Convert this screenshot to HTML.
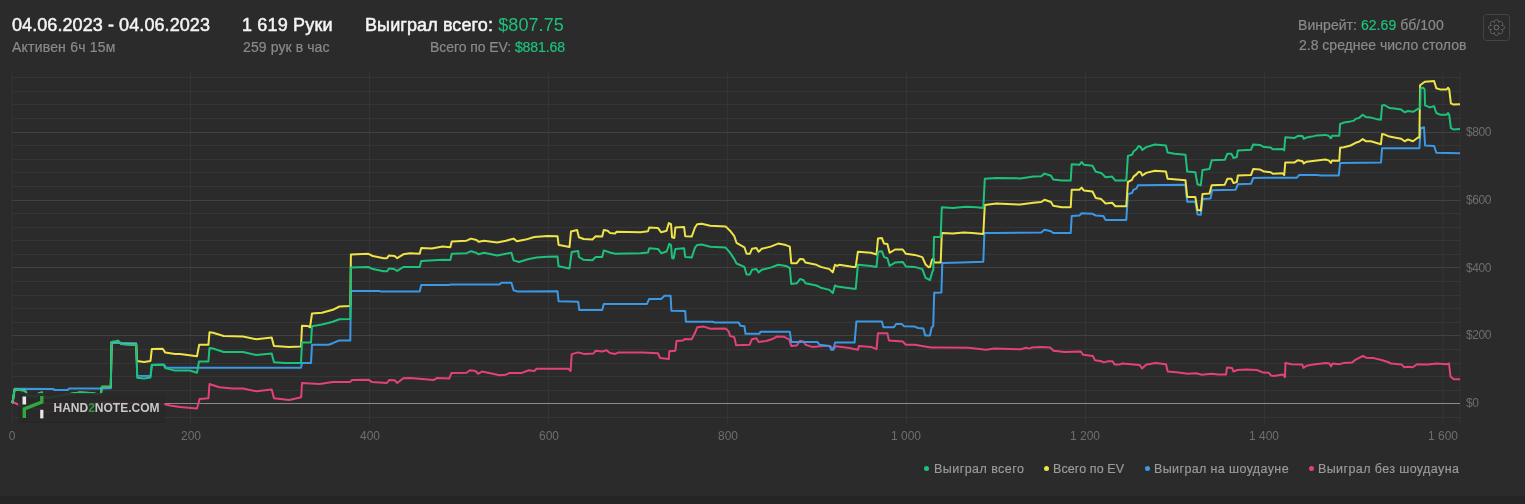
<!DOCTYPE html>
<html><head><meta charset="utf-8"><style>
html,body{margin:0;padding:0;}
body{width:1525px;height:504px;background:#2b2b2b;position:relative;overflow:hidden;font-family:"Liberation Sans",sans-serif;}
.a,.xl,.yl,.lg{will-change:transform;}
.a{position:absolute;white-space:nowrap;line-height:1;}
.t{color:#f4f4f4;-webkit-text-stroke:0.5px #f4f4f4;}
.s{color:#8a8a8a;-webkit-text-stroke:0.2px #8a8a8a;}
.g{color:#1dc27a;-webkit-text-stroke:0.2px #1dc27a;}
.gn{color:#1dc27a;-webkit-text-stroke:0;}
.xl{position:absolute;top:430px;width:80px;text-align:center;font-size:12px;color:#6e6e6e;line-height:12px;}
.yl{position:absolute;left:1466px;font-size:12px;color:#6e6e6e;line-height:16px;letter-spacing:-0.4px;}
.lg{position:absolute;top:463px;font-size:12.5px;color:#9c9c9c;-webkit-text-stroke:0.15px #9c9c9c;line-height:13px;white-space:nowrap;}
.dot{position:absolute;width:5.2px;height:5.2px;border-radius:50%;top:465.8px;}
#strip{position:absolute;left:0;top:496px;width:1525px;height:8px;background:#252525;}
</style></head><body>
<div class="a t" style="left:12.2px;top:16px;font-size:18px;letter-spacing:0.08px">04.06.2023 - 04.06.2023</div><div class="a s" style="left:12.3px;top:40px;font-size:14px;letter-spacing:0.2px">Активен 6ч 15м</div><div class="a t" style="left:242.4px;top:16px;font-size:18px;letter-spacing:0.17px">1 619 Руки</div><div class="a s" style="left:243.3px;top:40px;font-size:14px;letter-spacing:0.1px">259 рук в час</div><div class="a t" style="left:365.2px;top:16px;font-size:18px;letter-spacing:0.1px">Выиграл всего: <span class="gn">$807.75</span></div><div class="a s" style="left:429.5px;top:40px;font-size:14px;letter-spacing:-0.07px">Всего по EV: <span class="g">$881.68</span></div><div class="a s" style="left:1297.8px;top:18px;font-size:14px;letter-spacing:0.05px">Винрейт: <span class="g">62.69</span> бб/100</div><div class="a s" style="left:1298.8px;top:38px;font-size:14px;letter-spacing:0.0px">2.8 среднее число столов</div>
<svg style="position:absolute;left:0;top:0" width="1525" height="504" viewBox="0 0 1525 504">
<line x1="12.0" y1="71" x2="12.0" y2="424" stroke="#353535" stroke-width="1"/><line x1="190.5" y1="71" x2="190.5" y2="424" stroke="#353535" stroke-width="1"/><line x1="369.5" y1="71" x2="369.5" y2="424" stroke="#353535" stroke-width="1"/><line x1="548.5" y1="71" x2="548.5" y2="424" stroke="#353535" stroke-width="1"/><line x1="727.5" y1="71" x2="727.5" y2="424" stroke="#353535" stroke-width="1"/><line x1="906.5" y1="71" x2="906.5" y2="424" stroke="#353535" stroke-width="1"/><line x1="1085.5" y1="71" x2="1085.5" y2="424" stroke="#353535" stroke-width="1"/><line x1="1264.5" y1="71" x2="1264.5" y2="424" stroke="#353535" stroke-width="1"/><line x1="1443.0" y1="71" x2="1443.0" y2="424" stroke="#353535" stroke-width="1"/><line x1="1460.0" y1="71" x2="1460.0" y2="424" stroke="#353535" stroke-width="1"/><line x1="12.5" y1="417.5" x2="1460" y2="417.5" stroke="#353535" stroke-width="1"/><line x1="12.5" y1="390.5" x2="1460" y2="390.5" stroke="#353535" stroke-width="1"/><line x1="12.5" y1="376.5" x2="1460" y2="376.5" stroke="#353535" stroke-width="1"/><line x1="12.5" y1="363.5" x2="1460" y2="363.5" stroke="#353535" stroke-width="1"/><line x1="12.5" y1="349.5" x2="1460" y2="349.5" stroke="#353535" stroke-width="1"/><line x1="12.5" y1="335.5" x2="1460" y2="335.5" stroke="#424242" stroke-width="1"/><line x1="12.5" y1="322.5" x2="1460" y2="322.5" stroke="#353535" stroke-width="1"/><line x1="12.5" y1="308.5" x2="1460" y2="308.5" stroke="#353535" stroke-width="1"/><line x1="12.5" y1="295.5" x2="1460" y2="295.5" stroke="#353535" stroke-width="1"/><line x1="12.5" y1="281.5" x2="1460" y2="281.5" stroke="#353535" stroke-width="1"/><line x1="12.5" y1="267.5" x2="1460" y2="267.5" stroke="#424242" stroke-width="1"/><line x1="12.5" y1="254.5" x2="1460" y2="254.5" stroke="#353535" stroke-width="1"/><line x1="12.5" y1="240.5" x2="1460" y2="240.5" stroke="#353535" stroke-width="1"/><line x1="12.5" y1="227.5" x2="1460" y2="227.5" stroke="#353535" stroke-width="1"/><line x1="12.5" y1="213.5" x2="1460" y2="213.5" stroke="#353535" stroke-width="1"/><line x1="12.5" y1="200.5" x2="1460" y2="200.5" stroke="#424242" stroke-width="1"/><line x1="12.5" y1="186.5" x2="1460" y2="186.5" stroke="#353535" stroke-width="1"/><line x1="12.5" y1="172.5" x2="1460" y2="172.5" stroke="#353535" stroke-width="1"/><line x1="12.5" y1="159.5" x2="1460" y2="159.5" stroke="#353535" stroke-width="1"/><line x1="12.5" y1="145.5" x2="1460" y2="145.5" stroke="#353535" stroke-width="1"/><line x1="12.5" y1="132.5" x2="1460" y2="132.5" stroke="#424242" stroke-width="1"/><line x1="12.5" y1="118.5" x2="1460" y2="118.5" stroke="#353535" stroke-width="1"/><line x1="12.5" y1="104.5" x2="1460" y2="104.5" stroke="#353535" stroke-width="1"/><line x1="12.5" y1="91.5" x2="1460" y2="91.5" stroke="#353535" stroke-width="1"/><line x1="12.5" y1="77.5" x2="1460" y2="77.5" stroke="#353535" stroke-width="1"/><line x1="12" y1="403.5" x2="1460" y2="403.5" stroke="#8a8a8a" stroke-width="1"/>

<polyline points="12,403 14,402.5 17,404 20,405.5 27,407.5 35,408.5 40,409 43,412.5 50,412 60,410.3 74,408.7 88,407.9 95,405 101,402 118,402 130,403 145,403.5 163.7,404 170,405.5 180,407 197,408.5 199.6,399 208.4,398.3 209.5,384 219.3,387.3 232.4,388.4 243,388.4 256.4,391.3 271.7,389.5 274,398.3 289.2,400 301.2,397.2 302,383 319.7,384 332.8,381.9 340,381.9 350,381.9 352,380.1 368.4,379.7 371.7,381.9 386.9,383 389.1,380.1 394.6,380.3 397.2,383 403.3,378.2 410,378 433.9,379.9 437.2,377.9 449.2,378.6 451.4,373.1 466.6,372.7 469.9,370.3 475.4,371 478,373.8 481.9,371.6 492.8,373.8 499.4,375.3 505.9,374.7 509.2,373.1 521.2,373.1 528.9,370.3 534.3,371 536.5,368.8 547.4,368.8 568.4,368.8 570.6,371 571.7,354.1 578.2,352.4 583.7,353.9 593.5,353.5 595.7,350.7 602.2,351.5 606.6,350.2 609.9,353.1 615.3,353.9 618.6,352.4 642.6,352.4 657.9,353.3 660.1,357.9 668.8,359 669.3,351.3 675.4,350.7 676.5,341 683,340.4 685.2,338.9 691.7,339.3 695,332.8 697.2,327.3 703.8,326.6 710.3,328.8 725.6,328.4 728.9,331.7 730,336 734.3,337.1 736.1,345.2 749.6,344.8 751.8,339.3 756.4,338.2 758.6,341.9 766.2,341 771.7,339.3 777.1,336.5 783.7,336.7 789.1,339.3 791.3,345.9 796.8,345.4 800,340.8 803.3,341.5 805.5,344.8 812,346.9 823,345.9 829.5,345.9 832.8,348.5 836.1,346.3 849.2,348 857.9,349.8 859,345.9 871,346.9 876.5,349.1 878,333.2 887.4,333.2 888.9,340.4 902.7,341.5 905.9,344.8 914.7,344.8 927.8,346.9 931,347.6 940,347.6 968.4,347.8 985.9,349.7 994.6,348.4 1020.8,349.3 1026.2,347.8 1029,348.6 1031.7,347.6 1040.4,347.1 1050.3,347.6 1053.5,350.8 1064.5,351.9 1080.8,351.5 1083,354.8 1092.8,355.9 1095,360.2 1101.6,361.3 1103.8,362.4 1108.1,361.3 1112.5,361.3 1114.7,364.6 1119,364.6 1122.3,363.5 1139.8,365 1142,368.5 1146.3,364.6 1148.7,364.2 1155.1,363.1 1166,364.2 1167.7,371.5 1176.8,372.2 1187.6,373.7 1196.3,373.3 1201.7,374.8 1211.4,373.7 1217.9,374.4 1226.1,374.4 1227,367.4 1232,367.9 1233.5,371.5 1237.4,370 1246,369.6 1256.9,370 1263.3,372.6 1268.8,372.8 1270.9,375.4 1274,375.9 1282.8,374.4 1285,377.2 1285.4,362.9 1291.5,364.2 1302.3,364.6 1303.4,367.9 1306.6,365.7 1313.1,364.6 1326.1,362.9 1329.4,363.5 1330.9,366.4 1332.6,363.5 1339.1,364.2 1343.4,363.1 1352.1,362.5 1355.3,359.9 1358.6,358.1 1362.9,356 1366.1,357.7 1373.7,358.1 1382.4,360.3 1387.8,362 1391,363.5 1401.8,364.6 1404,367.2 1408.3,366.8 1412.7,367.2 1417,364.2 1427.8,364.6 1436.5,363.5 1447.3,364.2 1449,363.5 1450.5,376.5 1453.8,379.3 1460,379.3" fill="none" stroke="#e3417a" stroke-width="2" stroke-linejoin="round"/>
<polyline points="12,403 13,400 14.8,388.8 53,389 55,390 68,390 69,388.5 100,388.5 110.8,388.3 111.6,342.8 136.2,343.2 137.2,375.8 150.5,376 151.8,364.8 164,364.6 166,367.4 175,367.7 301,367.7 302,362.9 311,362.9 312,344.8 328.5,344.8 332.8,343.2 339.4,340.4 350.3,340.4 350.9,291 379.3,291 381.5,291.6 419.7,291.6 421.2,285 449,285 451.4,284.4 499.4,284.4 501.6,282.7 511.4,282.7 513.6,290.3 516.9,291.4 557.5,291.2 558.6,301.3 578.2,301.7 579.3,310 602.2,310 603.8,303.9 647,303.9 649.2,298.9 661.2,298.9 664.5,295.8 670.6,295.8 671.4,310.7 685.2,310.9 685.9,321.8 712.5,321.8 714.7,322.5 738.7,322.5 740.4,325.8 744.4,326.2 745.5,333.8 759.2,333.8 760.7,331.7 789.8,331.7 791.3,342.1 817.5,342.1 819.7,344.8 829.5,345.9 831.3,349.8 833.5,349.8 835,342.6 854.6,342.6 856.4,321.4 881.9,321.4 883.4,327.3 893.9,327.3 896.1,324 901.6,324 904.2,326.2 914.7,326.6 918,328 923.4,328.4 925.2,335.4 930,335.4 931.7,327.3 933.2,326.2 934.2,292.8 941.4,292.4 942.3,262.9 961.5,262.5 983.3,261.8 984.4,233 996.4,233 1041.2,232.5 1044.5,229.7 1051,231.3 1053.2,233 1070.7,233 1071.7,216 1079.4,215.5 1081.6,213.3 1092.5,213.8 1095.8,215.5 1103.4,216 1105.6,219.9 1126.3,219.9 1127.9,194.1 1132,193 1133.5,189.7 1136.4,188.6 1137.9,185.3 1184.4,184.7 1185.5,185.3 1187.2,201.7 1195.3,201.7 1197.5,214.4 1200.8,214.8 1202.5,199.1 1210.6,198.4 1212.1,190.3 1235.7,189.7 1237.9,184.2 1251,183.8 1253.2,178.1 1264.1,177.7 1296.9,177.7 1299,175.1 1316.5,175.1 1321.9,175.5 1338.8,175.5 1340.1,162.9 1381,162.5 1382.1,148.2 1419.4,148.2 1420.6,128.2 1424,127.3 1425.1,145.5 1434.1,146 1436.3,152.8 1460,153.3" fill="none" stroke="#3b98e6" stroke-width="2" stroke-linejoin="round"/>
<polyline points="12,403 13,400 14.5,389.5 25,390.5 27.5,395.3 36.6,396.5 39,393.2 42,392.6 43.8,397.6 50,397.5 60,395.5 70,394 80,392.5 90,393 100,394.5 101,394 101.8,386.8 110.8,386.8 111.6,342 116,341.5 118,340.8 121,343.9 133.7,344.8 136.2,344.2 136.9,361 144,362 150.5,361 151.8,349.1 162.7,348.7 165.3,352.6 175,353.9 180,354 197,356.3 199.2,344.8 208.4,344.8 209.5,332.3 213,332.8 223.7,336 243,336.5 256.4,339.3 271.7,337.5 273.9,345.9 289,347 301,346.5 302,325.8 308,326 310,327.3 312,313.5 322,312.7 332.8,309.8 339.4,306.5 350.3,306.1 350.9,254.5 368.4,253.8 372.8,256 383.7,258.2 387,258.2 389,255.4 394.6,256 397.2,258.2 403.3,254.3 409.9,253.2 419.7,253.8 421.2,248 431.7,248.4 442.6,246.6 450.3,247.3 451.8,241.4 466.6,240.7 471,238.6 476.5,240 478.6,241.8 484,240.7 497.2,242.5 506,240.7 513.6,238.6 516.9,241.2 525.6,239.6 534.3,237 547.4,236 557.5,236.2 558.6,244.9 561.8,245.4 569.5,247.1 571,231.4 577.1,230.1 578.9,237.3 583.7,239 592.4,239.5 595.7,236.2 602.2,236.6 603.8,230.1 607.7,230.7 609.9,232.9 615.3,233.6 616.4,231.8 640.4,232.3 648,231.2 649.2,227.5 657.9,227.9 661.2,232.3 666.6,230.7 668.8,223.1 671,224.2 672.1,237.3 674.3,238 675.4,227.5 684.1,227 685.2,236.2 691.7,236.6 695,227.5 697.2,224.2 701.6,223.8 710.3,225.7 725.6,226.4 730,230.7 734.3,236.2 736.5,242.8 744.4,247.3 746.6,253.8 749.8,253.8 752,248.8 756.4,248 758.6,251.7 761.8,248.8 770.6,246.6 778.2,243.6 785.9,245.1 789.8,246.6 791.3,263.2 796.8,263.2 800,258.9 803.3,259.3 805.5,262.6 816.4,264.8 820.8,266.9 829.5,269.1 832.8,272.4 835,264.8 837.2,265.9 839.3,264.8 853.5,266.9 855.7,266.9 857.9,251.7 871,252.8 876.5,254.5 878,238.6 881.9,238.1 884.1,243.6 887.4,244 889.6,252.8 895,249.5 902.7,249.5 905.9,253.8 914.7,254.9 922.3,257.1 925.6,264.5 928.7,267.3 930,266.9 932,259.7 933.5,258.5 934.2,262.5 940.7,262.5 941.8,233 952.8,233.6 963.7,232.5 972.4,233 983.3,234 984.8,205 996.4,203.5 1020.4,204.6 1033.5,202.8 1041.2,202 1044.5,199.8 1051,202 1053.2,205.7 1061.9,207.2 1070.7,207.2 1071.7,189.7 1079.4,189.7 1081.6,187.6 1083.8,190.4 1092.5,191.5 1095.8,198 1101.2,199.1 1105.6,203.5 1112.1,202.8 1115.4,206.3 1126.3,206.3 1127.9,182 1132,179.9 1133.5,176.6 1136.4,174.4 1138.6,171.8 1140.7,172.2 1142.3,175.5 1146.2,172.9 1154.9,170.7 1165.9,171.6 1167.6,178.8 1185.5,180.3 1187.2,196.9 1195.3,196.9 1197.5,210 1200.8,210.4 1202.5,194.1 1209.5,193.4 1211.7,185.3 1224.8,184.7 1227.4,178.8 1231.4,178.8 1233.5,183.1 1236.8,182 1237.9,175.5 1251,175.1 1253.2,169 1259.7,169.4 1264.1,171.6 1270.7,172.2 1272.8,173.8 1282.7,173.3 1284.2,175.1 1285.3,162.4 1294.7,162.4 1298,160.2 1302.5,161.2 1303.7,163.4 1306.7,161.7 1316.9,160.4 1325.3,159.5 1328.7,160.4 1330.9,162.9 1332,160.4 1339.3,160.7 1340.1,147.7 1343.8,147.2 1350.6,145.5 1355.6,142.8 1359,141.7 1362.7,139.1 1365.8,141.2 1370.8,141.2 1375.9,142.8 1380.9,144.2 1382.1,134.1 1384.3,134.4 1389.4,136.6 1394.4,137.5 1401.2,138.8 1404.6,141.3 1407.9,139.5 1413,141.2 1418,137.5 1419.4,137.5 1420.1,85.2 1424.8,81.8 1428.2,81.5 1434.1,81 1436.3,88.2 1440,89.4 1446.7,89.4 1448.1,87.7 1449.2,89.4 1450.9,103.4 1453.5,104.6 1460,104.2" fill="none" stroke="#eee447" stroke-width="2" stroke-linejoin="round"/>
<polyline points="12,403 13,400 14.5,389.5 25,390.5 27.5,395.3 36.6,396.5 39,393.2 42,392.6 43.8,397.6 50,397.5 60,395.5 70,394 80,392.5 90,393 100,394.5 101,394 101.8,386.8 110.8,386.8 111.6,342 116,341.5 118,340.8 121,343.9 133.7,344.8 136.2,344.2 137.2,377.7 144,378.4 150.5,377.5 151.8,365.1 163.4,364.8 165.3,368 175,370.6 190,370.5 197,372.7 199,361.5 208.4,361.5 209.5,348 213,348.5 223.7,352 243,352 256.4,355 271.7,353.5 274,362.2 285,363 301,363 302,342.6 311,342.6 312,326.2 322,324.5 332.8,321.8 339.4,319.2 350.3,319 350.9,267.6 368.4,267 372.8,269.1 383.7,271.3 387,271.3 389,268.5 394,269 397.2,270.9 403.3,267 419.7,267 421.2,261 442.6,259.7 450.3,260 451.8,253.8 466.6,253.2 471,251.2 476,252.7 478.6,254.3 484,252.7 497.2,255.6 506,253.8 511.4,252.8 513.6,260.4 519,262 527.8,259.3 536.5,257.5 547.4,256.7 557.5,256.5 558.6,266.3 569.5,268.5 571.7,251.9 578.2,251 578.9,257 583.7,259.8 592.4,260.2 595.7,257 602.2,257 603.8,250.4 609.9,252.5 615.3,253.7 640.4,253.2 648,252.6 649.2,248.2 657.9,248.9 661.2,253.2 666.6,251.5 669.3,243.8 671,245 672.1,258 673.6,258.5 675.4,248.9 684.1,248.2 685.2,257 691.7,257.6 695,247.6 697.2,244.9 701.6,244.5 710.3,246.7 725.6,247.6 730,252.6 734.3,259.1 736.5,263.5 744.4,266.9 746.6,274.6 749.8,274.6 752,269.8 756.4,269.1 758.6,272.4 761.8,269.8 770.6,267.6 778.2,264.8 785.9,265.9 789.8,268 791.3,284 796.8,283.3 800,279 803.3,280 805.5,283.3 816.4,285.5 820.8,287.7 829.5,289.9 832.8,293.1 835,285.5 837.2,286.6 853.5,288.8 855.7,288.8 857.9,264.8 871,265.9 876.5,266.9 878,251.7 881.9,251.2 884.1,257.1 887.4,258.2 889.6,265.9 895,262.6 902.7,261.9 905.9,266.5 914.7,266.9 922.3,269.1 925.6,277.9 930,280 932.1,272.4 933.3,270 934,237 940.7,236.9 941.8,207.2 952.8,207.9 965.9,206.8 976.8,207.2 983.3,207.9 984.8,178.8 996.4,177.9 1020.4,178.4 1033.5,176.6 1041.2,176.2 1044.5,173.6 1051,175.8 1053.2,179.5 1061.9,180.6 1070.7,180.6 1071.7,164.2 1079.4,164.8 1081.6,162 1084,164.8 1092.5,165.7 1095.8,171.8 1101.2,172.9 1105.6,177.3 1112.1,176.6 1115.4,180.6 1126.3,180.6 1127.9,155.9 1132,154.8 1133.5,151.5 1136.4,149.3 1138.6,146 1140.5,146.7 1142.3,150 1146.2,147.1 1154.9,144.5 1165.9,145.4 1167.6,152.6 1174.6,153.7 1185.5,154.8 1187.2,171.6 1195.3,172.2 1197.5,184.2 1200.8,185.3 1202.5,170 1209.5,169 1211.7,160.2 1224.8,159.8 1227.4,153.7 1231.4,153.7 1233.5,158 1236.8,157 1237.9,150.4 1251,149.7 1253.2,144.5 1259.7,144.9 1264.1,147.1 1270.7,147.6 1272.8,149.3 1282.7,148.9 1284.2,150.4 1285.3,137.3 1294.7,137.9 1298,135.8 1302.5,136 1303.7,138.8 1306.7,137.5 1311.8,136.6 1316.9,135.4 1325.3,134.9 1328.7,135.8 1330.9,138.3 1332,135.8 1339.3,135.8 1340.1,124 1343.8,122.6 1350.6,121.4 1354,120.6 1355.6,118.9 1359,118 1362.7,114.7 1365.8,116.9 1370.8,117.6 1375.9,118.9 1380.9,119.7 1382.1,105.4 1384.3,105 1389.4,107.9 1394.4,108.4 1401.2,109.6 1404.6,112.2 1407.9,111 1413,111.8 1418,108.8 1420.1,108.4 1420.6,88.5 1423.1,87.7 1424.6,89.4 1425.1,105.4 1429.8,107.4 1434.1,106.3 1436.3,113 1440,114.7 1446.7,114.7 1448.1,113 1449.2,114.7 1450.9,128.2 1453.5,129.4 1460,129" fill="none" stroke="#1dc27a" stroke-width="2" stroke-linejoin="round"/>

<rect x="18.5" y="393.5" width="146" height="29.5" fill="#232323" fill-opacity="0.6"/>
<rect x="18" y="393" width="145.5" height="28.5" fill="#2b2b2b" fill-opacity="0.8"/>
<rect x="22.5" y="396.5" width="3.6" height="8" fill="#e8e8e8"/>
<rect x="40.2" y="409.8" width="3.2" height="8.6" fill="#e8e8e8"/>
<path d="M24.3 418 L24.3 409 L41.8 402 L41.8 396" fill="none" stroke="#2fa840" stroke-width="3.4"/>
<text x="53.5" y="412" font-family="Liberation Sans" font-weight="bold" font-size="12" fill="#dedede" fill-opacity="0.88">HAND<tspan fill="#2fa840">2</tspan>NOTE.COM</text>
<rect x="1483.5" y="14.5" width="26" height="26" rx="3" fill="none" stroke="#444" stroke-width="1"/>
<g transform="translate(1496.5,27.5)" fill="none" stroke="#747474" stroke-width="1">
<path d="M0.00,-7.85 L0.14,-7.85 L0.27,-7.83 L0.41,-7.81 L0.54,-7.78 L0.68,-7.74 L0.81,-7.69 L0.94,-7.63 L1.06,-7.57 L1.19,-7.49 L1.31,-7.41 L1.42,-7.31 L1.53,-7.21 L1.64,-7.09 L1.74,-6.97 L1.83,-6.83 L1.91,-6.68 L1.99,-6.51 L2.06,-6.33 L2.11,-6.12 L2.14,-5.89 L2.15,-5.59 L2.07,-5.13 L2.16,-5.10 L2.44,-5.47 L2.65,-5.68 L2.84,-5.82 L3.02,-5.93 L3.20,-6.01 L3.37,-6.08 L3.53,-6.12 L3.70,-6.15 L3.86,-6.17 L4.01,-6.18 L4.17,-6.18 L4.31,-6.16 L4.46,-6.14 L4.60,-6.10 L4.74,-6.06 L4.87,-6.01 L4.99,-5.95 L5.12,-5.89 L5.23,-5.81 L5.35,-5.73 L5.45,-5.64 L5.55,-5.55 L5.64,-5.45 L5.73,-5.35 L5.81,-5.23 L5.89,-5.12 L5.95,-4.99 L6.01,-4.87 L6.06,-4.74 L6.10,-4.60 L6.14,-4.46 L6.16,-4.31 L6.18,-4.17 L6.18,-4.01 L6.17,-3.86 L6.15,-3.70 L6.12,-3.53 L6.08,-3.37 L6.01,-3.20 L5.93,-3.02 L5.82,-2.84 L5.68,-2.65 L5.47,-2.44 L5.10,-2.16 L5.13,-2.07 L5.59,-2.15 L5.89,-2.14 L6.12,-2.11 L6.33,-2.06 L6.51,-1.99 L6.68,-1.91 L6.83,-1.83 L6.97,-1.74 L7.09,-1.64 L7.21,-1.53 L7.31,-1.42 L7.41,-1.31 L7.49,-1.19 L7.57,-1.06 L7.63,-0.94 L7.69,-0.81 L7.74,-0.68 L7.78,-0.54 L7.81,-0.41 L7.83,-0.27 L7.85,-0.14 L7.85,-0.00 L7.85,0.14 L7.83,0.27 L7.81,0.41 L7.78,0.54 L7.74,0.68 L7.69,0.81 L7.63,0.94 L7.57,1.06 L7.49,1.19 L7.41,1.31 L7.31,1.42 L7.21,1.53 L7.09,1.64 L6.97,1.74 L6.83,1.83 L6.68,1.91 L6.51,1.99 L6.33,2.06 L6.12,2.11 L5.89,2.14 L5.59,2.15 L5.13,2.07 L5.10,2.16 L5.47,2.44 L5.68,2.65 L5.82,2.84 L5.93,3.02 L6.01,3.20 L6.08,3.37 L6.12,3.53 L6.15,3.70 L6.17,3.86 L6.18,4.01 L6.18,4.17 L6.16,4.31 L6.14,4.46 L6.10,4.60 L6.06,4.74 L6.01,4.87 L5.95,4.99 L5.89,5.12 L5.81,5.23 L5.73,5.35 L5.64,5.45 L5.55,5.55 L5.45,5.64 L5.35,5.73 L5.23,5.81 L5.12,5.89 L4.99,5.95 L4.87,6.01 L4.74,6.06 L4.60,6.10 L4.46,6.14 L4.31,6.16 L4.17,6.18 L4.01,6.18 L3.86,6.17 L3.70,6.15 L3.53,6.12 L3.37,6.08 L3.20,6.01 L3.02,5.93 L2.84,5.82 L2.65,5.68 L2.44,5.47 L2.16,5.10 L2.07,5.13 L2.15,5.59 L2.14,5.89 L2.11,6.12 L2.06,6.33 L1.99,6.51 L1.91,6.68 L1.83,6.83 L1.74,6.97 L1.64,7.09 L1.53,7.21 L1.42,7.31 L1.31,7.41 L1.19,7.49 L1.06,7.57 L0.94,7.63 L0.81,7.69 L0.68,7.74 L0.54,7.78 L0.41,7.81 L0.27,7.83 L0.14,7.85 L0.00,7.85 L-0.14,7.85 L-0.27,7.83 L-0.41,7.81 L-0.54,7.78 L-0.68,7.74 L-0.81,7.69 L-0.94,7.63 L-1.06,7.57 L-1.19,7.49 L-1.31,7.41 L-1.42,7.31 L-1.53,7.21 L-1.64,7.09 L-1.74,6.97 L-1.83,6.83 L-1.91,6.68 L-1.99,6.51 L-2.06,6.33 L-2.11,6.12 L-2.14,5.89 L-2.15,5.59 L-2.07,5.13 L-2.16,5.10 L-2.44,5.47 L-2.65,5.68 L-2.84,5.82 L-3.02,5.93 L-3.20,6.01 L-3.37,6.08 L-3.53,6.12 L-3.70,6.15 L-3.86,6.17 L-4.01,6.18 L-4.17,6.18 L-4.31,6.16 L-4.46,6.14 L-4.60,6.10 L-4.74,6.06 L-4.87,6.01 L-4.99,5.95 L-5.12,5.89 L-5.23,5.81 L-5.35,5.73 L-5.45,5.64 L-5.55,5.55 L-5.64,5.45 L-5.73,5.35 L-5.81,5.23 L-5.89,5.12 L-5.95,4.99 L-6.01,4.87 L-6.06,4.74 L-6.10,4.60 L-6.14,4.46 L-6.16,4.31 L-6.18,4.17 L-6.18,4.01 L-6.17,3.86 L-6.15,3.70 L-6.12,3.53 L-6.08,3.37 L-6.01,3.20 L-5.93,3.02 L-5.82,2.84 L-5.68,2.65 L-5.47,2.44 L-5.10,2.16 L-5.13,2.07 L-5.59,2.15 L-5.89,2.14 L-6.12,2.11 L-6.33,2.06 L-6.51,1.99 L-6.68,1.91 L-6.83,1.83 L-6.97,1.74 L-7.09,1.64 L-7.21,1.53 L-7.31,1.42 L-7.41,1.31 L-7.49,1.19 L-7.57,1.06 L-7.63,0.94 L-7.69,0.81 L-7.74,0.68 L-7.78,0.54 L-7.81,0.41 L-7.83,0.27 L-7.85,0.14 L-7.85,0.00 L-7.85,-0.14 L-7.83,-0.27 L-7.81,-0.41 L-7.78,-0.54 L-7.74,-0.68 L-7.69,-0.81 L-7.63,-0.94 L-7.57,-1.06 L-7.49,-1.19 L-7.41,-1.31 L-7.31,-1.42 L-7.21,-1.53 L-7.09,-1.64 L-6.97,-1.74 L-6.83,-1.83 L-6.68,-1.91 L-6.51,-1.99 L-6.33,-2.06 L-6.12,-2.11 L-5.89,-2.14 L-5.59,-2.15 L-5.13,-2.07 L-5.10,-2.16 L-5.47,-2.44 L-5.68,-2.65 L-5.82,-2.84 L-5.93,-3.02 L-6.01,-3.20 L-6.08,-3.37 L-6.12,-3.53 L-6.15,-3.70 L-6.17,-3.86 L-6.18,-4.01 L-6.18,-4.17 L-6.16,-4.31 L-6.14,-4.46 L-6.10,-4.60 L-6.06,-4.74 L-6.01,-4.87 L-5.95,-4.99 L-5.89,-5.12 L-5.81,-5.23 L-5.73,-5.35 L-5.64,-5.45 L-5.55,-5.55 L-5.45,-5.64 L-5.35,-5.73 L-5.23,-5.81 L-5.12,-5.89 L-4.99,-5.95 L-4.87,-6.01 L-4.74,-6.06 L-4.60,-6.10 L-4.46,-6.14 L-4.31,-6.16 L-4.17,-6.18 L-4.01,-6.18 L-3.86,-6.17 L-3.70,-6.15 L-3.53,-6.12 L-3.37,-6.08 L-3.20,-6.01 L-3.02,-5.93 L-2.84,-5.82 L-2.65,-5.68 L-2.44,-5.47 L-2.16,-5.10 L-2.07,-5.13 L-2.15,-5.59 L-2.14,-5.89 L-2.11,-6.12 L-2.06,-6.33 L-1.99,-6.51 L-1.91,-6.68 L-1.83,-6.83 L-1.74,-6.97 L-1.64,-7.09 L-1.53,-7.21 L-1.42,-7.31 L-1.31,-7.41 L-1.19,-7.49 L-1.06,-7.57 L-0.94,-7.63 L-0.81,-7.69 L-0.68,-7.74 L-0.54,-7.78 L-0.41,-7.81 L-0.27,-7.83 L-0.14,-7.85Z"/>
<circle r="2.4"/>
</g>
</svg>
<div class="xl" style="left:-27.7px">0</div><div class="xl" style="left:150.9px">200</div><div class="xl" style="left:329.8px">400</div><div class="xl" style="left:508.6px">600</div><div class="xl" style="left:687.5px">800</div><div class="xl" style="left:866.4px">1 000</div><div class="xl" style="left:1045.2px">1 200</div><div class="xl" style="left:1224.1px">1 400</div><div class="xl" style="left:1403.0px">1 600</div>
<div class="yl" style="top:124.0px">$800</div><div class="yl" style="top:191.8px">$600</div><div class="yl" style="top:259.5px">$400</div><div class="yl" style="top:327.2px">$200</div><div class="yl" style="top:395.0px">$0</div>
<div class="dot" style="left:923.8px;background:#1dc27a"></div><div class="lg" style="left:933.8px;letter-spacing:0.45px">Выиграл всего</div><div class="dot" style="left:1043.9px;background:#eee447"></div><div class="lg" style="left:1053.3px;letter-spacing:0.1px">Всего по EV</div><div class="dot" style="left:1145.0px;background:#3b98e6"></div><div class="lg" style="left:1154.4px;letter-spacing:0.38px">Выиграл на шоудауне</div><div class="dot" style="left:1308.8px;background:#e3417a"></div><div class="lg" style="left:1318.4px;letter-spacing:0.4px">Выиграл без шоудауна</div>
<div id="strip"></div>
</body></html>
